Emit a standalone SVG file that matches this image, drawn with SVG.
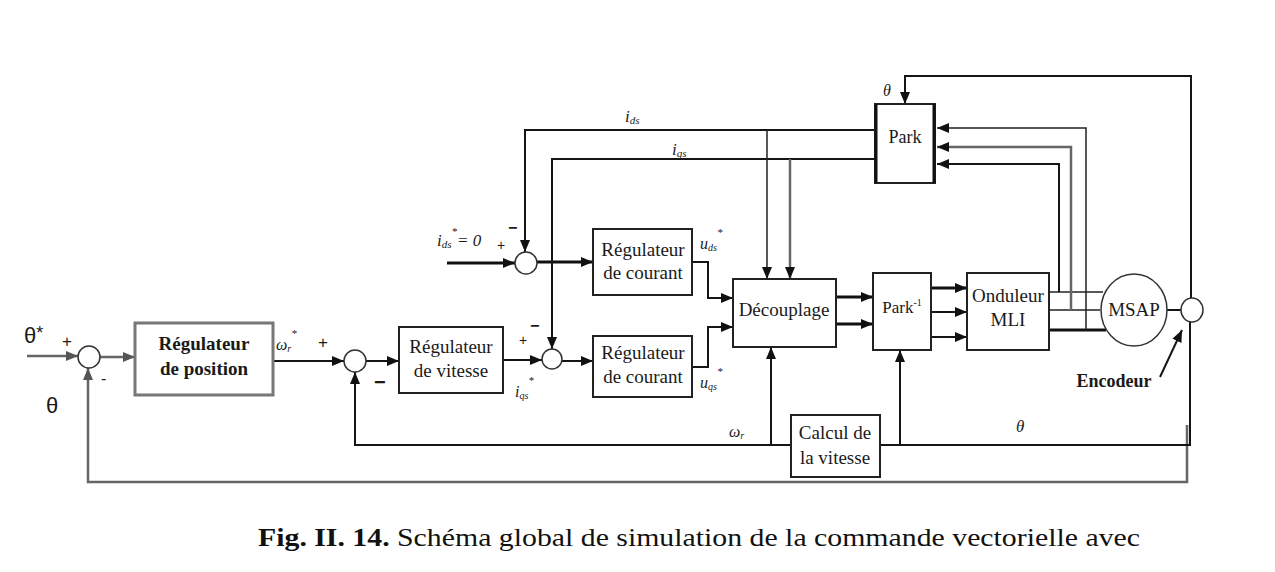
<svg xmlns="http://www.w3.org/2000/svg" width="1275" height="572" viewBox="0 0 1275 572">
<style>
.ln{fill:none;stroke:#151515;stroke-width:2}
.th{fill:none;stroke:#111;stroke-width:3}
.tn{fill:none;stroke:#222;stroke-width:1.5}
.gr{fill:none;stroke:#666;stroke-width:2.5}
.box{fill:#fff;stroke:#222;stroke-width:2}
.sum{fill:#fff;stroke:#333;stroke-width:1.5}
.t{font-family:"Liberation Serif",serif;fill:#1a1a1a;text-anchor:middle}
.it{font-family:"Liberation Serif",serif;font-style:italic;fill:#1a1a1a}
.s{font-family:"Liberation Sans",sans-serif;fill:#1a1a1a}
</style>
<defs>
<marker id="a" markerUnits="userSpaceOnUse" markerWidth="12" markerHeight="10" refX="12" refY="5" orient="auto"><path d="M0,0 L12,5 L0,10 z" fill="#111"/></marker>
<marker id="g" markerUnits="userSpaceOnUse" markerWidth="12" markerHeight="10" refX="12" refY="5" orient="auto"><path d="M0,0 L12,5 L0,10 z" fill="#555"/></marker>
</defs>
<rect width="1275" height="572" fill="#fff"/>

<g id="connectors">
<path class="gr" d="M27,356 H78" marker-end="url(#g)"/>
<path class="gr" d="M100,357 H135" marker-end="url(#g)"/>
<path class="gr" d="M1187,425 V482 H88 V368" marker-end="url(#g)"/>
<path class="ln" d="M273,361 H344" marker-end="url(#a)"/>
<path class="ln" d="M366,361 H399" marker-end="url(#a)"/>
<path class="ln" d="M791,445 H355 V372" marker-end="url(#a)"/>
<path class="ln" d="M1190,322 V445 H880"/>
<path class="ln" d="M503,360 H542" marker-end="url(#a)"/>
<path class="ln" d="M562,361 H593" marker-end="url(#a)"/>
<path class="th" d="M447,263 H515" marker-end="url(#a)"/>
<path class="th" d="M537,262 H593" marker-end="url(#a)"/>
<path class="ln" d="M875,130 H525 V252" marker-end="url(#a)"/>
<path class="ln" d="M875,159 H552 V349" marker-end="url(#a)"/>
<path class="tn" d="M767,130 V279" marker-end="url(#a)"/>
<path class="gr" d="M790,159 V279" marker-end="url(#a)"/>
<path class="ln" d="M692,262 H708 V298 H733" marker-end="url(#a)"/>
<path class="ln" d="M692,367 H708 V327 H733" marker-end="url(#a)"/>
<path class="th" d="M836,297 H873" marker-end="url(#a)"/>
<path class="th" d="M836,324 H873" marker-end="url(#a)"/>
<path class="th" d="M931,288 H967" marker-end="url(#a)"/>
<path class="ln" d="M931,312 H967" marker-end="url(#a)"/>
<path class="ln" d="M931,337 H967" marker-end="url(#a)"/>
<path class="tn" d="M1049,292 H1103"/>
<path class="tn" d="M1049,310 H1100"/>
<path class="th" d="M1049,330 H1106"/>
<path class="ln" d="M1059,292 V164 H937" marker-end="url(#a)"/>
<path class="gr" d="M1071,310 V147 H937" marker-end="url(#a)"/>
<path class="tn" d="M1086,330 V128 H937" marker-end="url(#a)"/>
<path class="ln" d="M1191,299 V76 H905 V104" marker-end="url(#a)"/>
<path class="ln" d="M1166,310 H1181"/>
<path class="ln" d="M771,445 V347" marker-end="url(#a)"/>
<path class="ln" d="M900,445 V350" marker-end="url(#a)"/>
<path class="ln" d="M1160,377 L1182,330" marker-end="url(#a)"/>
</g>

<g id="sum1"><circle class="sum" cx="89" cy="357" r="11"/></g>
<g id="sum2"><circle class="sum" cx="355" cy="361" r="11"/></g>
<g id="sum3"><circle class="sum" cx="526" cy="263" r="11"/></g>
<g id="sum4"><circle class="sum" cx="552" cy="359" r="10"/></g>

<g id="reg_position">
<rect x="135" y="323" width="138" height="72" fill="#fff" stroke="#777" stroke-width="3"/>
<text class="t" x="204" y="350" font-size="19" font-weight="bold">Régulateur</text>
<text class="t" x="204" y="375" font-size="19" font-weight="bold">de position</text>
</g>
<g id="reg_vitesse">
<rect class="box" x="399" y="327" width="104" height="66"/>
<text class="t" x="451" y="353" font-size="19">Régulateur</text>
<text class="t" x="451" y="377" font-size="19">de vitesse</text>
</g>
<g id="reg_courant_d">
<rect class="box" x="593" y="229" width="99" height="66"/>
<text class="t" x="643" y="256" font-size="19">Régulateur</text>
<text class="t" x="643" y="279" font-size="19">de courant</text>
</g>
<g id="reg_courant_q">
<rect class="box" x="593" y="336" width="99" height="61"/>
<text class="t" x="643" y="359" font-size="19">Régulateur</text>
<text class="t" x="643" y="383" font-size="19">de courant</text>
</g>
<g id="decouplage">
<rect class="box" x="733" y="279" width="103" height="68"/>
<text class="t" x="784" y="316" font-size="19">Découplage</text>
</g>
<g id="park">
<rect class="box" x="875" y="104" width="60" height="79"/>
<path d="M876,104 V183 M934,104 V183" stroke="#111" stroke-width="3"/>
<text class="t" x="905" y="143" font-size="18">Park</text>
</g>
<g id="park_inv">
<rect class="box" x="873" y="273" width="58" height="77"/>
<text class="t" x="902" y="313" font-size="17">Park<tspan font-size="10" dy="-7">-1</tspan></text>
</g>
<g id="onduleur">
<rect class="box" x="967" y="273" width="82" height="77"/>
<text class="t" x="1008" y="302" font-size="19">Onduleur</text>
<text class="t" x="1008" y="326" font-size="19">MLI</text>
</g>
<g id="msap">
<ellipse cx="1134" cy="310" rx="33" ry="36" fill="#fff" stroke="#333" stroke-width="1.5"/>
<text class="t" x="1134" y="316" font-size="19">MSAP</text>
</g>
<g id="encodeur">
<ellipse cx="1192" cy="310" rx="11" ry="12" fill="#fff" stroke="#333" stroke-width="1.5"/>
<text class="t" x="1114" y="387" font-size="18" font-weight="bold">Encodeur</text>
</g>
<g id="calcul_vitesse">
<rect class="box" x="791" y="415" width="89" height="62"/>
<text class="t" x="835" y="439" font-size="19">Calcul de</text>
<text class="t" x="835" y="464" font-size="19">la vitesse</text>
</g>

<g id="labels">
<text class="s" x="24" y="343" font-size="22">θ<tspan font-size="18" dy="-4">*</tspan></text>
<text class="s" x="62" y="347" font-size="17" fill="#8a1a1a">+</text>
<text class="s" x="101" y="384" font-size="16">-</text>
<text class="s" x="46" y="413" font-size="22">θ</text>
<text class="it" x="276" y="350" font-size="16">ω<tspan font-size="10" dy="2">r</tspan><tspan font-size="11" dy="-15">*</tspan></text>
<text class="s" x="318" y="348" font-size="17">+</text>
<text class="s" x="374" y="389" font-size="20" font-weight="bold">−</text>
<text class="s" x="519" y="345" font-size="14">+</text>
<text class="s" x="530" y="331" font-size="16" font-weight="bold">−</text>
<text class="it" x="515" y="397" font-size="16">i<tspan font-size="10" dy="2">qs</tspan><tspan font-size="11" dy="-15">*</tspan></text>
<text class="it" x="437" y="246" font-size="17">i<tspan font-size="11" dy="2">ds</tspan><tspan font-size="11" dy="-13">*</tspan><tspan font-size="17" dy="11">= 0</tspan></text>
<text class="s" x="497" y="250" font-size="14">+</text>
<text class="s" x="508" y="233" font-size="16" font-weight="bold">−</text>
<text class="it" x="625" y="122" font-size="17">i<tspan font-size="11" dy="2">ds</tspan></text>
<text class="it" x="672" y="155" font-size="17">i<tspan font-size="11" dy="2">qs</tspan></text>
<text class="it" x="883" y="96" font-size="16">θ</text>
<text class="it" x="700" y="249" font-size="16">u<tspan font-size="10" dy="2">ds</tspan><tspan font-size="11" dy="-15">*</tspan></text>
<text class="it" x="700" y="388" font-size="16">u<tspan font-size="10" dy="2">qs</tspan><tspan font-size="11" dy="-15">*</tspan></text>
<text class="it" x="729" y="437" font-size="16">ω<tspan font-size="10" dy="2">r</tspan></text>
<text class="it" x="1016" y="432" font-size="17">θ</text>
</g>

<g id="caption">
<text x="258" y="546" font-family="Liberation Serif,serif" font-size="26" fill="#111" textLength="882" lengthAdjust="spacingAndGlyphs"><tspan font-weight="bold">Fig. II. 14.</tspan> Schéma global de simulation de la commande vectorielle avec</text>
</g>
</svg>
